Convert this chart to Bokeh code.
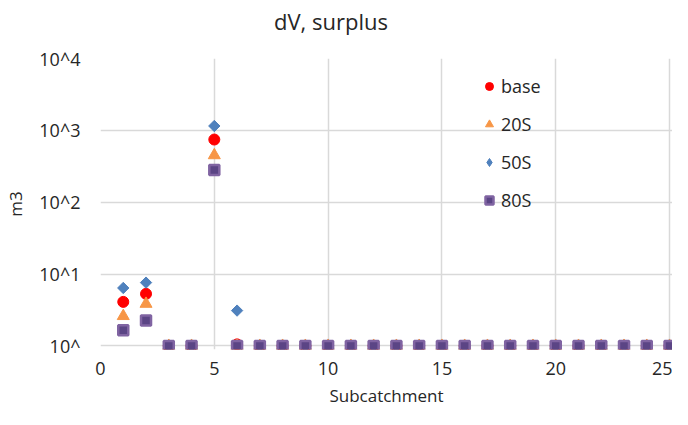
import math
from bokeh.plotting import figure
from bokeh.layouts import column
from bokeh.models import FixedTicker, Range1d, Legend, LegendItem, Div
from bokeh.embed import file_html
from bokeh.resources import INLINE

subcatchment = list(range(1, 26))
base = [4.1, 5.3, 1, 1, 745, 1.05] + [1] * 19
s20 = [2.6, 3.85, 1, 1, 450, 1] + [1] * 19
s50 = [6.4, 7.6, 1, 1, 1150, 3.1] + [1] * 19
s80 = [1.65, 2.25, 1, 1, 280, 1] + [1] * 19

y_ticks = [1, 10, 100, 1000, 10000]
y_labels = {1: "10^", 10: "10^1", 100: "10^2", 1000: "10^3", 10000: "10^4"}
x_ticks = [0, 5, 10, 15, 20, 25]
title_text = "dV, surplus"

FONT = "Open Sans"
TXT = "#262626"

title_div = Div(text=title_text, width=672, height=42, margin=0,
                styles={"font-family": FONT, "font-size": "22px",
                        "line-height": "42px", "text-align": "center",
                        "color": TXT, "padding-right": "10px",
                        "box-sizing": "border-box"})

p = figure(width=672, height=367, output_backend="svg", toolbar_location=None,
           y_axis_type="log", x_range=Range1d(0, 25.13),
           y_range=Range1d(10 ** -0.05, 10000),
           min_border_left=100, min_border_right=0, min_border_top=16,
           min_border_bottom=55, margin=0)
p.outline_line_color = None

p.xaxis.ticker = FixedTicker(ticks=x_ticks)
p.yaxis.ticker = FixedTicker(ticks=y_ticks)
p.yaxis.major_label_overrides = y_labels
p.xgrid.ticker = FixedTicker(ticks=x_ticks)
p.ygrid.ticker = FixedTicker(ticks=y_ticks)
for g in (p.xgrid, p.ygrid):
    g.grid_line_color = "#D9D9D9"
    g.grid_line_width = 1.5

for ax in (p.xaxis, p.yaxis):
    ax.axis_line_color = None
    ax.major_tick_line_color = None
    ax.minor_tick_line_color = None
    ax.major_tick_out = 0
    ax.minor_tick_out = 0
    ax.major_label_text_font = FONT
    ax.major_label_text_font_size = "18px"
    ax.major_label_text_color = TXT
    ax.axis_label_text_font = FONT
    ax.axis_label_text_font_size = "17px"
    ax.axis_label_text_font_style = "normal"
    ax.axis_label_text_color = TXT

p.xaxis.axis_label = "Subcatchment"
p.yaxis.axis_label = "m3"
p.xaxis.major_label_standoff = 12
p.xaxis.axis_label_standoff = 6
p.yaxis.major_label_standoff = 20
p.yaxis.axis_label_standoff = 9

r_base = p.scatter(subcatchment, base, marker="circle", size=11,
                   fill_color="#FF0000", line_color="#FF0000")
r_20 = p.scatter(subcatchment, s20, marker="triangle", size=12,
                 fill_color="#F79646", line_color="#F79646")
p.scatter(subcatchment, s50, marker="square", size=8, angle=math.pi / 4,
          fill_color="#4F81BD", line_color="#4F81BD")
r_80 = p.scatter(subcatchment, s80, marker="square", size=10,
                 fill_color="#5B4585", line_color="#8064A2", line_width=2.5)
# legend swatch for 50S (diamond shape)
r_50_key = p.scatter([float("nan")], [float("nan")], marker="diamond", size=12,
                     fill_color="#4F81BD", line_color="#4F81BD")

legend = Legend(items=[LegendItem(label="base", renderers=[r_base]),
                       LegendItem(label="20S", renderers=[r_20]),
                       LegendItem(label="50S", renderers=[r_50_key]),
                       LegendItem(label="80S", renderers=[r_80])],
                location=(379, 137), orientation="vertical")
legend.background_fill_alpha = 0
legend.border_line_color = None
legend.padding = 0
legend.margin = 0
legend.spacing = 14
legend.glyph_width = 20
legend.glyph_height = 24
legend.label_height = 24
legend.label_standoff = 2
legend.label_text_font = FONT
legend.label_text_font_size = "18px"
legend.label_text_color = TXT
p.add_layout(legend)

layout = column(title_div, p, spacing=0)
open("out.html", "w").write(file_html(layout, INLINE))
